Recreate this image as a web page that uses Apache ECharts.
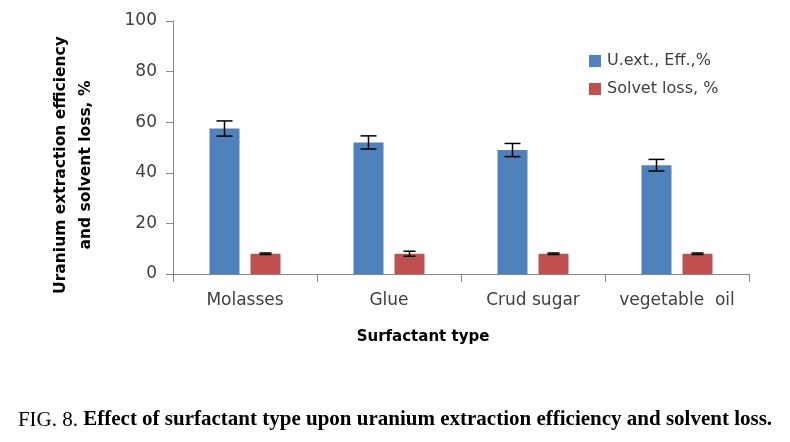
<!DOCTYPE html>
<html><head><meta charset="utf-8">
<script src="https://cdn.jsdelivr.net/npm/echarts@6/dist/echarts.min.js"></script>
<style>html,body{margin:0;padding:0;background:#fff}#c{width:790px;height:442px}</style>
</head><body><div id="c"></div>
<script>
var categories = ['Molasses', 'Glue', 'Crud sugar', 'vegetable  oil'];
var uextEff = [57.5, 52, 49, 43];
var uextErr = [3, 2.6, 2.6, 2.3];
var solventLoss = [8, 8, 8, 8];
var lossErr = [0.3, 1, 0.3, 0.3];
var yTicks = [0, 20, 40, 60, 80, 100];

var BAR_FRAC = 30 / 144, GAP_FRAC = 11 / 144;
var chart = echarts.init(document.getElementById('c'));

function errSeries(name, vals, errs, side, capFrac) {
  return {
    type: 'custom', name: name + ' err', z: 10, silent: true,
    data: vals.map(function (v, i) { return [i, v - errs[i], v + errs[i]]; }),
    renderItem: function (params, api) {
      var band = api.size([1, 0])[0];
      var off = side * (BAR_FRAC + GAP_FRAC) / 2 * band;
      var lo = api.coord([api.value(0), api.value(1)]);
      var hi = api.coord([api.value(0), api.value(2)]);
      var x = lo[0] + off, hw = capFrac * band / 2;
      var st = { stroke: '#000', lineWidth: 1.5 };
      return { type: 'group', children: [
        { type: 'line', shape: { x1: x, y1: lo[1], x2: x, y2: hi[1] }, style: st },
        { type: 'line', shape: { x1: x - hw, y1: lo[1], x2: x + hw, y2: lo[1] }, style: st },
        { type: 'line', shape: { x1: x - hw, y1: hi[1], x2: x + hw, y2: hi[1] }, style: st }
      ]};
    }
  };
}

chart.setOption({
  animation: false,
  grid: { left: 173, right: 41, top: 21, bottom: 168 },
  legend: {
    left: 589, top: 53, padding: 0, orient: 'vertical', itemWidth: 12, itemHeight: 12, itemGap: 12,
    data: ['U.ext., Eff.,%', 'Solvet loss, %'],
    textStyle: { fontFamily: 'DejaVu Sans', fontSize: 16, color: '#404040', padding: [0, 0, 0, 1] },
    icon: 'rect'
  },
  xAxis: {
    type: 'category', data: categories,
    axisLine: { lineStyle: { color: '#868686', width: 1 } },
    axisTick: { show: true, length: 8, lineStyle: { color: '#868686' } },
    axisLabel: { margin: 18, fontFamily: 'DejaVu Sans', fontSize: 17, color: '#404040', interval: 0 }
  },
  yAxis: {
    type: 'value', min: 0, max: 100, interval: 20,
    axisLine: { show: true, lineStyle: { color: '#868686', width: 1 } },
    axisTick: { show: true, length: 7, lineStyle: { color: '#868686' } },
    splitLine: { show: false },
    axisLabel: { margin: 16, fontFamily: 'DejaVu Sans', fontSize: 17, color: '#404040',
      formatter: function (v) { return yTicks.indexOf(v) >= 0 ? String(v) : ''; } }
  },
  series: [
    { name: 'U.ext., Eff.,%', type: 'bar', data: uextEff, barWidth: (BAR_FRAC * 100) + '%',
      barGap: (GAP_FRAC / BAR_FRAC * 100) + '%', itemStyle: { color: '#4F81BD' } },
    { name: 'Solvet loss, %', type: 'bar', data: solventLoss, barWidth: (BAR_FRAC * 100) + '%',
      itemStyle: { color: '#C0504D' } },
    errSeries('u', uextEff, uextErr, -1, 16 / 144),
    errSeries('l', solventLoss, lossErr, 1, 12 / 144)
  ],
  graphic: [
    { type: 'text', x: 73, y: 165, rotation: Math.PI / 2,
      style: { text: 'Uranium extraction efficiency\nand solvent loss, %', fontFamily: 'DejaVu Sans',
        fontWeight: 'bold', fontSize: 15.5, lineHeight: 25, fill: '#000', textAlign: 'center', textVerticalAlign: 'middle' } },
    { type: 'text', x: 423, y: 337,
      style: { text: 'Surfactant type', fontFamily: 'DejaVu Sans', fontWeight: 'bold', fontSize: 15,
        fill: '#000', textAlign: 'center', textVerticalAlign: 'middle' } },
    { type: 'text', x: 395, y: 420,
      style: { text: '{a|FIG. 8. }{b|Effect of surfactant type upon uranium extraction efficiency and solvent loss.}',
        textAlign: 'center', textVerticalAlign: 'middle',
        rich: { a: { fontFamily: 'Liberation Serif', fontSize: 21, fill: '#000' },
                b: { fontFamily: 'Liberation Serif', fontSize: 21, fontWeight: 'bold', fill: '#000' } } } }
  ]
});
</script></body></html>
